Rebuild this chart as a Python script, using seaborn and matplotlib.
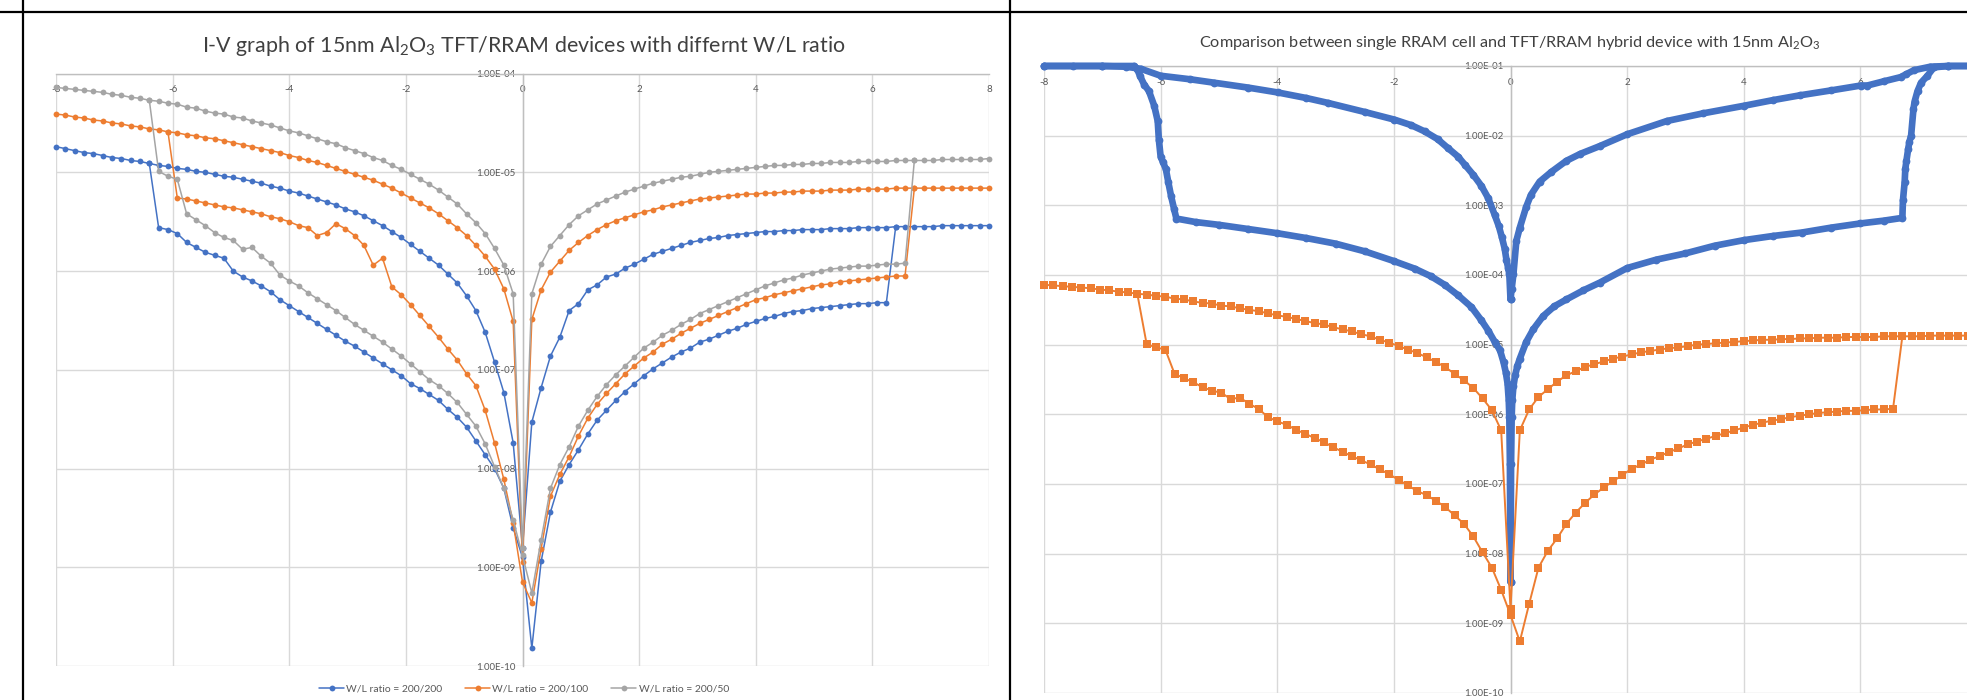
import numpy as np
import pandas as pd
import matplotlib
matplotlib.use("Agg")
import matplotlib.pyplot as plt
from matplotlib.lines import Line2D
from matplotlib.ticker import FixedLocator, FuncFormatter, NullLocator
import seaborn as sns

sns.set_style("white")
plt.rcParams["font.family"] = ["Lato", "DejaVu Sans"]
plt.rcParams["mathtext.fontset"] = "custom"
plt.rcParams["mathtext.rm"] = "Lato"
plt.rcParams["mathtext.it"] = "Lato:italic"
plt.rcParams["mathtext.bf"] = "Lato:bold"
plt.rcParams["axes.unicode_minus"] = False

# ------------------------------------------------------------------
# Measured data (currents stored as log10 of |I| in A)
# ------------------------------------------------------------------
# Sweep voltage grid of the TFT/RRAM measurements: -8 V .. +8 V, 0.16 V step
sweep_v = np.round(np.linspace(-8, 8, 101), 2)

wl_labels = ["W/L ratio = 200/200", "W/L ratio = 200/100", "W/L ratio = 200/50"]

# W/L = 200/200 : low-resistance branch (full sweep) and high-resistance branch
lrs_200_200 = [
    -4.74, -4.76, -4.78, -4.80, -4.81, -4.83, -4.85, -4.86, -4.88, -4.89, -4.91,
    -4.93, -4.94, -4.96, -4.97, -4.99, -5.00, -5.02, -5.04, -5.05, -5.07,
    -5.09, -5.11, -5.14, -5.16, -5.19, -5.21, -5.24, -5.27, -5.30, -5.33,
    -5.37, -5.40, -5.44, -5.49, -5.54, -5.60, -5.66, -5.73, -5.80, -5.87,
    -5.94, -6.03, -6.12, -6.25, -6.40, -6.62, -6.92, -7.23, -7.74, -8.80,
    -7.53, -7.18, -6.86, -6.67, -6.40, -6.33, -6.19, -6.14, -6.06, -6.03,
    -5.97, -5.93, -5.88, -5.83, -5.80, -5.77, -5.74, -5.71, -5.69, -5.67,
    -5.66, -5.64, -5.63, -5.62, -5.61, -5.60, -5.60, -5.59, -5.59, -5.58,
    -5.58, -5.58, -5.57, -5.57, -5.57, -5.56, -5.56, -5.56, -5.56, -5.55,
    -5.55, -5.55, -5.55, -5.55, -5.54, -5.54, -5.54, -5.54, -5.54, -5.54,
]
hrs_200_200_first = 11          # index of the first HRS point on sweep_v
hrs_200_200 = [
    -5.56, -5.58, -5.62, -5.71, -5.76, -5.81, -5.84, -5.87, -6.00, -6.06,
    -6.10, -6.15, -6.21, -6.29, -6.35, -6.41, -6.47, -6.53, -6.59, -6.65,
    -6.71, -6.76, -6.82, -6.88, -6.94, -7.00, -7.06, -7.14, -7.19, -7.25,
    -7.31, -7.40, -7.48, -7.58, -7.72, -7.86, -8.00, -8.20, -8.60, -8.90,
    -9.82, -8.94, -8.44, -8.13, -7.96, -7.81, -7.65, -7.51, -7.41, -7.31,
    -7.22, -7.14, -7.06, -6.99, -6.93, -6.87, -6.82, -6.78, -6.72, -6.69,
    -6.65, -6.61, -6.58, -6.54, -6.51, -6.48, -6.46, -6.43, -6.41, -6.40,
    -6.38, -6.37, -6.36, -6.35, -6.34, -6.33, -6.33, -6.32, -6.32,
]

# W/L = 200/100
lrs_200_100 = [
    -4.41, -4.42, -4.44, -4.45, -4.47, -4.48, -4.50, -4.51, -4.53, -4.54, -4.56,
    -4.57, -4.59, -4.60, -4.62, -4.63, -4.65, -4.66, -4.68, -4.70, -4.72,
    -4.74, -4.76, -4.78, -4.80, -4.83, -4.85, -4.88, -4.90, -4.93, -4.96,
    -4.99, -5.02, -5.05, -5.08, -5.12, -5.16, -5.21, -5.26, -5.31, -5.36,
    -5.42, -5.49, -5.56, -5.64, -5.74, -5.85, -5.98, -6.18, -6.51, -8.95,
    -6.49, -6.19, -6.01, -5.90, -5.79, -5.71, -5.64, -5.58, -5.53, -5.49,
    -5.46, -5.43, -5.40, -5.38, -5.35, -5.33, -5.31, -5.29, -5.27, -5.26,
    -5.25, -5.24, -5.23, -5.22, -5.22, -5.21, -5.21, -5.20, -5.20, -5.19,
    -5.19, -5.19, -5.18, -5.18, -5.18, -5.17, -5.17, -5.17, -5.17, -5.16,
    -5.16, -5.16, -5.16, -5.16, -5.16, -5.16, -5.16, -5.16, -5.16, -5.16,
]
hrs_200_100_first = 13
hrs_200_100 = [
    -5.26, -5.27, -5.29, -5.31, -5.33, -5.35, -5.36, -5.38,
    -5.40, -5.42, -5.45, -5.47, -5.50, -5.54, -5.56, -5.64, -5.61, -5.52,
    -5.57, -5.64, -5.74, -5.94, -5.87, -6.16, -6.24, -6.34, -6.45, -6.56,
    -6.67, -6.79, -6.90, -7.04, -7.16, -7.41, -7.74, -8.11, -8.55, -9.15,
    -9.36, -8.81, -8.28, -8.06, -7.88, -7.67, -7.49, -7.35, -7.24, -7.14,
    -7.04, -6.96, -6.88, -6.82, -6.74, -6.69, -6.63, -6.58, -6.53, -6.49,
    -6.45, -6.41, -6.37, -6.33, -6.29, -6.27, -6.24, -6.22, -6.20, -6.18,
    -6.16, -6.14, -6.13, -6.11, -6.10, -6.09, -6.08, -6.07, -6.06, -6.05, -6.05,
]

# W/L = 200/50 (also the TFT/RRAM hybrid device of the comparison chart)
lrs_200_50 = [
    -4.14, -4.15, -4.16, -4.17, -4.18, -4.19, -4.21, -4.22, -4.24, -4.25, -4.27,
    -4.28, -4.30, -4.31, -4.34, -4.35, -4.38, -4.40, -4.41, -4.44, -4.45,
    -4.48, -4.50, -4.52, -4.55, -4.58, -4.60, -4.63, -4.66, -4.69, -4.71,
    -4.75, -4.78, -4.81, -4.85, -4.88, -4.93, -4.97, -5.02, -5.07, -5.12,
    -5.18, -5.25, -5.32, -5.42, -5.51, -5.62, -5.77, -5.94, -6.23, -8.80,
    -6.23, -5.93, -5.75, -5.64, -5.53, -5.44, -5.38, -5.32, -5.28, -5.24,
    -5.20, -5.17, -5.14, -5.11, -5.09, -5.07, -5.05, -5.04, -5.02, -5.00,
    -4.99, -4.98, -4.97, -4.96, -4.95, -4.94, -4.93, -4.93, -4.92, -4.92,
    -4.91, -4.91, -4.90, -4.90, -4.90, -4.89, -4.89, -4.89, -4.89, -4.88,
    -4.88, -4.88, -4.88, -4.88, -4.87, -4.87, -4.87, -4.87, -4.87, -4.86,
]
hrs_200_50_first = 11
hrs_200_50 = [
    -4.99, -5.04, -5.07, -5.42, -5.48, -5.54, -5.61, -5.66, -5.69, -5.78,
    -5.76, -5.85, -5.92, -6.04, -6.10, -6.15, -6.22, -6.28, -6.34, -6.40,
    -6.47, -6.54, -6.60, -6.66, -6.72, -6.79, -6.86, -6.94, -7.02, -7.10,
    -7.16, -7.24, -7.33, -7.45, -7.57, -7.75, -7.98, -8.20, -8.52, -8.88,
    -9.26, -8.72, -8.20, -7.96, -7.78, -7.57, -7.41, -7.27, -7.15, -7.05,
    -6.96, -6.87, -6.78, -6.72, -6.65, -6.60, -6.54, -6.49, -6.43, -6.39,
    -6.35, -6.31, -6.27, -6.23, -6.19, -6.15, -6.12, -6.09, -6.07, -6.04,
    -6.02, -6.00, -5.98, -5.97, -5.96, -5.95, -5.95, -5.94, -5.93, -5.93, -5.92,
]

# Single RRAM cell: negative sweep (HRS, set, compliance) and return on LRS
rram_neg_set_v = [
    0.00, -0.01, -0.02, -0.03, -0.05, -0.08, -0.12, -0.18, -0.27, -0.38,
    -0.50, -0.67, -0.90, -1.13, -1.36, -1.64, -2.00, -2.50, -3.00, -3.50,
    -4.00, -4.50, -5.00, -5.40, -5.73, -5.77, -5.82, -5.87, -5.91, -5.96,
    -6.00, -6.03, -6.05, -6.11, -6.20, -6.28, -6.35, -6.40, -6.45, -7.00,
    -7.50, -8.00,
]
rram_neg_set_log = [
    -8.40, -6.72, -6.04, -5.80, -5.56, -5.40, -5.25, -5.08, -4.96, -4.80,
    -4.65, -4.46, -4.29, -4.14, -4.02, -3.91, -3.80, -3.66, -3.55, -3.47,
    -3.40, -3.34, -3.28, -3.24, -3.19, -3.05, -2.87, -2.66, -2.48, -2.38,
    -2.30, -2.06, -1.79, -1.57, -1.36, -1.27, -1.15, -1.05, -1.00, -1.00,
    -1.00, -1.00,
]
rram_neg_lrs_v = [
    -8.00, -7.00, -6.60, -6.34, -6.00, -5.50, -5.08, -4.50, -3.99, -3.50,
    -3.13, -2.50, -1.99, -1.70, -1.47, -1.25, -1.07, -0.90, -0.78, -0.64,
    -0.50, -0.38, -0.27, -0.20, -0.15, -0.10, -0.07, -0.04, -0.02, 0.00,
]
rram_neg_lrs_log = [
    -1.00, -1.00, -1.01, -1.04, -1.14, -1.19, -1.24, -1.31, -1.38, -1.46,
    -1.53, -1.66, -1.77, -1.85, -1.94, -2.05, -2.18, -2.30, -2.42, -2.56,
    -2.72, -2.90, -3.14, -3.30, -3.45, -3.62, -3.78, -3.90, -3.99, -4.35,
]
# Single RRAM cell: positive sweep
rram_pos_set_v = [
    0.00, 0.01, 0.02, 0.03, 0.05, 0.08, 0.12, 0.16, 0.27, 0.39,
    0.56, 0.75, 0.96, 1.25, 1.53, 2.00, 2.50, 3.00, 3.50, 4.00,
    4.50, 5.00, 5.50, 6.00, 6.40, 6.72, 6.73, 6.76, 6.77, 6.79,
    6.82, 6.84, 6.87, 6.91, 6.93, 6.98, 7.04, 7.15, 7.26, 7.50,
    8.00,
]
rram_pos_set_log = [
    -8.40, -6.72, -6.04, -5.80, -5.60, -5.44, -5.30, -5.20, -4.96, -4.78,
    -4.59, -4.45, -4.35, -4.22, -4.11, -3.90, -3.78, -3.69, -3.58, -3.50,
    -3.44, -3.39, -3.32, -3.26, -3.22, -3.18, -2.93, -2.66, -2.48, -2.36,
    -2.19, -2.09, -2.00, -1.62, -1.51, -1.36, -1.24, -1.14, -1.02, -1.00,
    -1.00,
]
rram_pos_lrs_v = [
    8.00, 7.50, 7.20, 6.92, 6.78, 6.69, 6.40, 6.12, 6.01, 5.50,
    4.97, 4.50, 4.01, 3.30, 2.68, 2.00, 1.53, 1.20, 0.96, 0.70,
    0.50, 0.35, 0.27, 0.16, 0.10, 0.05, 0.02, 0.00,
]
rram_pos_lrs_log = [
    -1.00, -1.00, -1.01, -1.06, -1.12, -1.16, -1.22, -1.28, -1.28, -1.35,
    -1.42, -1.49, -1.57, -1.68, -1.79, -1.98, -2.15, -2.26, -2.36, -2.52,
    -2.66, -2.85, -3.02, -3.32, -3.51, -3.99, -4.20, -4.35,
]

# ------------------------------------------------------------------
# Long-form tables for seaborn
# ------------------------------------------------------------------
def hysteresis_frame(name, lrs_log, hrs_log, hrs_first):
    """LRS sweep plus the HRS branch joined to the LRS curve at both switching points."""
    last = hrs_first + len(hrs_log) - 1
    hrs_v = sweep_v[hrs_first - 1:last + 2]
    hrs_path = [lrs_log[hrs_first - 1], *hrs_log, lrs_log[last + 1]]
    lrs = pd.DataFrame({"V": sweep_v, "I": 10.0 ** np.asarray(lrs_log)})
    lrs["branch"] = name + " LRS"
    hrs = pd.DataFrame({"V": hrs_v, "I": 10.0 ** np.asarray(hrs_path)})
    hrs["branch"] = name + " HRS"
    df = pd.concat([lrs, hrs], ignore_index=True)
    df["device"] = name
    return df

wl_df = pd.concat([
    hysteresis_frame(wl_labels[0], lrs_200_200, hrs_200_200, hrs_200_200_first),
    hysteresis_frame(wl_labels[1], lrs_200_100, hrs_200_100, hrs_200_100_first),
    hysteresis_frame(wl_labels[2], lrs_200_50, hrs_200_50, hrs_200_50_first),
], ignore_index=True)

hybrid_df = hysteresis_frame("TFT/RRAM", lrs_200_50, hrs_200_50, hrs_200_50_first)

rram_parts = []
for tag, v, lg in [("neg set", rram_neg_set_v, rram_neg_set_log),
                   ("neg lrs", rram_neg_lrs_v, rram_neg_lrs_log),
                   ("pos set", rram_pos_set_v, rram_pos_set_log),
                   ("pos lrs", rram_pos_lrs_v, rram_pos_lrs_log)]:
    part = pd.DataFrame({"V": v, "I": 10.0 ** np.asarray(lg)})
    part["branch"] = tag
    rram_parts.append(part)
rram_df = pd.concat(rram_parts, ignore_index=True)

# ------------------------------------------------------------------
# Figure
# ------------------------------------------------------------------
BLUE, ORANGE, GRAY = "#4472C4", "#ED7D31", "#A5A5A5"
LABEL_C, GRID_C, AXIS_C, TITLE_C = "#595959", "#D9D9D9", "#BFBFBF", "#404040"

W, H = 1967, 700
fig = plt.figure(figsize=(W / 100, H / 100), dpi=100)
fig.patch.set_facecolor("white")


def px_box(x0, y_top, x1, y_bottom):
    return [x0 / W, 1 - y_bottom / H, (x1 - x0) / W, (y_bottom - y_top) / H]


ax1 = fig.add_axes(px_box(56, 73.6, 989, 666))
ax2 = fig.add_axes(px_box(1044, 66, 1977, 693))
for ax in (ax1, ax2):
    ax.set_yscale("log")

sns.lineplot(data=wl_df, x="V", y="I", hue="device", hue_order=wl_labels,
             units="branch", estimator=None, sort=False,
             palette=[BLUE, ORANGE, GRAY], marker="o", markersize=4.2,
             markeredgewidth=0, linewidth=1.1, legend=False, ax=ax1,
             clip_on=False)

sns.lineplot(data=rram_df, x="V", y="I", units="branch", estimator=None,
             sort=False, color=BLUE, marker="o", markersize=5.6,
             markeredgewidth=0, linewidth=4.8, solid_joinstyle="round",
             solid_capstyle="round", ax=ax2, clip_on=False)
sns.lineplot(data=hybrid_df, x="V", y="I", units="branch", estimator=None,
             sort=False, color=ORANGE, marker="s", markersize=5.2,
             markeredgewidth=0, linewidth=1.4, ax=ax2, clip_on=False)


def style_axes(ax, lo, hi, last_label):
    ax.set_xlim(-8, 8)
    ax.set_ylim(10.0 ** lo, 10.0 ** hi)
    ax.xaxis.set_major_locator(FixedLocator(np.arange(-8, 9, 2)))
    ax.yaxis.set_major_locator(FixedLocator(10.0 ** np.arange(lo, hi + 1)))
    ax.xaxis.set_minor_locator(NullLocator())
    ax.yaxis.set_minor_locator(NullLocator())
    ax.xaxis.set_major_formatter(
        FuncFormatter(lambda v, p: f"{v:g}" if v <= last_label else ""))
    ax.yaxis.set_major_formatter(FuncFormatter(lambda v, p: f"{v:.2E}"))
    ax.grid(True, color=GRID_C, linewidth=1.0)
    ax.set_axisbelow(True)
    for s in ("bottom", "right"):
        ax.spines[s].set_visible(False)
    ax.spines["left"].set_position(("data", 0))
    for s in ("left", "top"):
        ax.spines[s].set_color(AXIS_C)
        ax.spines[s].set_linewidth(1.0)
        ax.spines[s].set_zorder(0.6)
    ax.xaxis.tick_top()
    ax.tick_params(axis="x", length=0, pad=-15, labelsize=7, labelcolor=LABEL_C)
    ax.tick_params(axis="y", length=0, pad=5, labelsize=7, labelcolor=LABEL_C)
    ax.set_xlabel("")
    ax.set_ylabel("")
    ax.patch.set_alpha(0)


style_axes(ax1, -10, -4, 8)
# the right chart runs past the page edge, so its +8 label is not shown
style_axes(ax2, -10, -1, 6)

fig.text(524 / W, 1 - 52 / H,
         r"I-V graph of 15nm Al$_2$O$_3$ TFT/RRAM devices with differnt W/L ratio",
         ha="center", va="baseline", fontsize=15.4, color=TITLE_C)
fig.text(1510 / W, 1 - 46.5 / H,
         r"Comparison between single RRAM cell and TFT/RRAM hybrid device with 15nm Al$_2$O$_3$",
         ha="center", va="baseline", fontsize=11.7, color=TITLE_C)

handles = [Line2D([], [], color=c, marker="o", markersize=4.2, markeredgewidth=0,
                  linewidth=1.1) for c in (BLUE, ORANGE, GRAY)]
fig.legend(handles, wl_labels, loc="center", bbox_to_anchor=(524 / W, 1 - 689 / H),
           bbox_transform=fig.transFigure, ncol=3, frameon=False, fontsize=7.5,
           handlelength=2.4, handletextpad=0.2, columnspacing=2.2,
           labelcolor=LABEL_C)

# Table frame around the two charts
for xs, ys in [([0, 1], [1 - 12 / H] * 2),
               ([23 / W] * 2, [0, 1]),
               ([1010 / W] * 2, [0, 1])]:
    fig.add_artist(Line2D(xs, ys, color="black", linewidth=1.6,
                          transform=fig.transFigure))

fig.savefig("out.png", dpi=100, facecolor="white")
